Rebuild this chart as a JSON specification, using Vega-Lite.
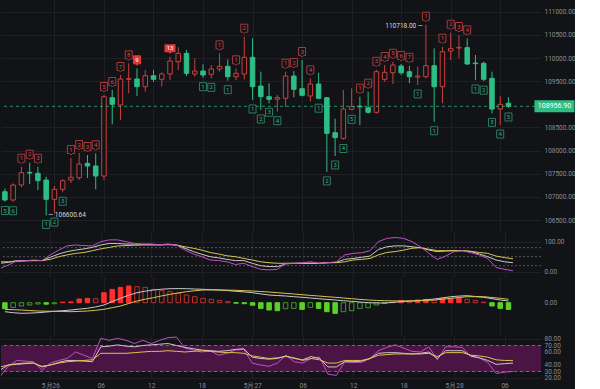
{
"$schema": "https://vega.github.io/schema/vega-lite/v6.json",
"background": "#121317",
"padding": 0,
"spacing": 0,
"bounds": "flush",
"config": {
  "view": {"stroke": null},
  "axis": {"domain": false, "ticks": false, "labelColor": "#8a8d93", "labelFont": "Roboto", "labelFontSize": 6.5, "gridColor": "#1e2025", "gridWidth": 1, "title": null, "labelOverlap": false, "labelSeparation": 0}
},
"data": {"values": [
{"t":"2025-05-25T18:00:00Z","open":107112,"high":107180,"low":106900,"close":106933,"td":5,"side":"d","K":28,"D":33,"J":11,"dif":-90,"dea":-66,"macd":-60,"rsi6":22,"rsi12":32,"rsi24":37},
{"t":"2025-05-25T19:00:00Z","open":106933,"high":107290,"low":106896,"close":107257,"td":6,"side":"d","K":31,"D":33,"J":22,"dif":-100,"dea":-70,"macd":-47,"rsi6":38,"rsi12":40,"rsi24":40},
{"t":"2025-05-25T20:00:00Z","open":107257,"high":107652,"low":107207,"close":107522,"td":1,"side":"u","K":37,"D":34,"J":36,"dif":-106,"dea":-73,"macd":-33,"rsi6":47,"rsi12":41,"rsi24":42},
{"t":"2025-05-25T21:00:00Z","open":107530,"high":107738,"low":107279,"close":107515,"td":2,"side":"u","K":37,"D":36,"J":36,"dif":-104,"dea":-78,"macd":-23,"rsi6":46,"rsi12":42,"rsi24":43},
{"t":"2025-05-25T22:00:00Z","open":107509,"high":107652,"low":107149,"close":107350,"td":3,"side":"u","K":37,"D":37,"J":39,"dif":-100,"dea":-83,"macd":-13,"rsi6":45,"rsi12":43,"rsi24":43},
{"t":"2025-05-25T23:00:00Z","open":107365,"high":107436,"low":106600.64,"close":106948,"td":1,"side":"d","K":37,"D":37,"J":37,"dif":-93,"dea":-85,"macd":-15,"rsi6":32,"rsi12":37,"rsi24":38},
{"t":"2025-05-26T00:00:00Z","open":106948,"high":107235,"low":106650,"close":107164,"td":2,"side":"d","K":48,"D":41,"J":56,"dif":-86,"dea":-86,"macd":-10,"rsi6":43,"rsi12":40,"rsi24":40},
{"t":"2025-05-26T01:00:00Z","open":107164,"high":107380,"low":107100,"close":107350,"td":3,"side":"d","K":59,"D":50,"J":72,"dif":-80,"dea":-88,"macd":5,"rsi6":47,"rsi12":44,"rsi24":43},
{"t":"2025-05-26T02:00:00Z","open":107365,"high":107840,"low":107300,"close":107423,"td":1,"side":"u","K":67,"D":56,"J":86,"dif":-73,"dea":-90,"macd":8,"rsi6":50,"rsi12":47,"rsi24":45},
{"t":"2025-05-26T03:00:00Z","open":107414,"high":107948,"low":107365,"close":107710,"td":2,"side":"u","K":72,"D":61,"J":89,"dif":-64,"dea":-87,"macd":37,"rsi6":60,"rsi12":47,"rsi24":46},
{"t":"2025-05-26T04:00:00Z","open":107725,"high":107905,"low":107408,"close":107667,"td":3,"side":"u","K":76,"D":64,"J":87,"dif":-56,"dea":-83,"macd":43,"rsi6":55,"rsi12":46,"rsi24":47},
{"t":"2025-05-26T05:00:00Z","open":107667,"high":107941,"low":107164,"close":107451,"td":4,"side":"u","K":81,"D":70,"J":86,"dif":-42,"dea":-76,"macd":40,"rsi6":50,"rsi12":45,"rsi24":48},
{"t":"2025-05-26T06:00:00Z","open":107451,"high":109201,"low":107365,"close":109164,"td":5,"side":"u","K":89,"D":76,"J":100,"dif":-23,"dea":-66,"macd":100,"rsi6":81,"rsi12":68,"rsi24":58},
{"t":"2025-05-26T07:00:00Z","open":109142,"high":109309,"low":108568,"close":109000,"td":6,"side":"u","K":94,"D":81,"J":106,"dif":12,"dea":-50,"macd":133,"rsi6":78,"rsi12":69,"rsi24":58},
{"t":"2025-05-26T08:00:00Z","open":108985,"high":109633,"low":108661,"close":109547,"td":7,"side":"u","K":94,"D":86,"J":106,"dif":44,"dea":-33,"macd":153,"rsi6":81,"rsi12":71,"rsi24":58},
{"t":"2025-05-26T09:00:00Z","open":109540,"high":109885,"low":109237,"close":109555,"td":8,"side":"u","K":92,"D":87,"J":100,"dif":75,"dea":-8,"macd":167,"rsi6":78,"rsi12":69,"rsi24":58},
{"t":"2025-05-26T10:00:00Z","open":109547,"high":109777,"low":109179,"close":109380,"td":9,"side":"u","K":92,"D":88,"J":94,"dif":100,"dea":17,"macd":160,"rsi6":73,"rsi12":68,"rsi24":59},
{"t":"2025-05-26T11:00:00Z","open":109380,"high":109741,"low":109272,"close":109618,"K":91,"D":89,"J":92,"dif":115,"dea":35,"macd":153,"rsi6":78,"rsi12":70,"rsi24":60},
{"t":"2025-05-26T12:00:00Z","open":109618,"high":109741,"low":109488,"close":109540,"K":91,"D":89,"J":92,"dif":127,"dea":50,"macd":133,"rsi6":73,"rsi12":71,"rsi24":61},
{"t":"2025-05-26T13:00:00Z","open":109540,"high":109690,"low":109380,"close":109654,"K":90,"D":89,"J":90,"dif":135,"dea":68,"macd":120,"rsi6":78,"rsi12":72,"rsi24":61},
{"t":"2025-05-26T14:00:00Z","open":109654,"high":110028,"low":109525,"close":109935,"td":13,"side":"u","K":91,"D":90,"J":92,"dif":140,"dea":84,"macd":110,"rsi6":82,"rsi12":73,"rsi24":62},
{"t":"2025-05-26T15:00:00Z","open":109920,"high":110231,"low":109741,"close":110100,"K":89,"D":89,"J":89,"dif":141,"dea":98,"macd":93,"rsi6":83,"rsi12":70,"rsi24":61},
{"t":"2025-05-26T16:00:00Z","open":110100,"high":110172,"low":109611,"close":109669,"K":78,"D":83,"J":72,"dif":140,"dea":110,"macd":77,"rsi6":66,"rsi12":67,"rsi24":60},
{"t":"2025-05-26T17:00:00Z","open":109654,"high":109993,"low":109596,"close":109719,"K":67,"D":78,"J":59,"dif":137,"dea":120,"macd":60,"rsi6":63,"rsi12":65,"rsi24":61},
{"t":"2025-05-26T18:00:00Z","open":109719,"high":109864,"low":109575,"close":109633,"td":1,"side":"d","K":58,"D":72,"J":50,"dif":134,"dea":127,"macd":43,"rsi6":60,"rsi12":63,"rsi24":62},
{"t":"2025-05-26T19:00:00Z","open":109648,"high":109849,"low":109561,"close":109762,"td":2,"side":"d","K":50,"D":64,"J":39,"dif":130,"dea":128,"macd":33,"rsi6":62,"rsi12":62,"rsi24":61},
{"t":"2025-05-26T20:00:00Z","open":109762,"high":110100,"low":109704,"close":109820,"td":1,"side":"u","K":46,"D":59,"J":37,"dif":127,"dea":127,"macd":23,"rsi6":55,"rsi12":61,"rsi24":60},
{"t":"2025-05-26T21:00:00Z","open":109820,"high":109972,"low":109510,"close":109596,"td":1,"side":"d","K":41,"D":53,"J":33,"dif":121,"dea":126,"macd":10,"rsi6":58,"rsi12":62,"rsi24":59},
{"t":"2025-05-26T22:00:00Z","open":109596,"high":109777,"low":109525,"close":109669,"td":1,"side":"u","K":37,"D":50,"J":24,"dif":114,"dea":124,"macd":-5,"rsi6":63,"rsi12":64,"rsi24":59},
{"t":"2025-05-26T23:00:00Z","open":109654,"high":110460,"low":109540,"close":110015,"td":2,"side":"u","K":37,"D":44,"J":28,"dif":108,"dea":120,"macd":-10,"rsi6":64,"rsi12":65,"rsi24":58},
{"t":"2025-05-27T00:00:00Z","open":110015,"high":110425,"low":109093,"close":109380,"td":1,"side":"d","K":28,"D":39,"J":17,"dif":100,"dea":117,"macd":-25,"rsi6":43,"rsi12":52,"rsi24":54},
{"t":"2025-05-27T01:00:00Z","open":109395,"high":109704,"low":108877,"close":109164,"td":2,"side":"d","K":20,"D":33,"J":8,"dif":88,"dea":112,"macd":-57,"rsi6":40,"rsi12":50,"rsi24":52},
{"t":"2025-05-27T02:00:00Z","open":109164,"high":109453,"low":109022,"close":109108,"td":3,"side":"d","K":17,"D":30,"J":6,"dif":77,"dea":107,"macd":-73,"rsi6":38,"rsi12":49,"rsi24":50},
{"t":"2025-05-27T03:00:00Z","open":109110,"high":109201,"low":108840,"close":109145,"td":4,"side":"d","K":17,"D":28,"J":8,"dif":72,"dea":100,"macd":-80,"rsi6":43,"rsi12":50,"rsi24":51},
{"t":"2025-05-27T04:00:00Z","open":109130,"high":109704,"low":108948,"close":109611,"td":1,"side":"u","K":26,"D":28,"J":28,"dif":67,"dea":94,"macd":-60,"rsi6":55,"rsi12":54,"rsi24":53},
{"t":"2025-05-27T05:00:00Z","open":109611,"high":109719,"low":109151,"close":109324,"td":2,"side":"u","K":28,"D":28,"J":28,"dif":60,"dea":87,"macd":-57,"rsi6":45,"rsi12":50,"rsi24":51},
{"t":"2025-05-27T06:00:00Z","open":109337,"high":109957,"low":109170,"close":109194,"td":3,"side":"u","K":28,"D":28,"J":30,"dif":54,"dea":80,"macd":-67,"rsi6":43,"rsi12":48,"rsi24":47},
{"t":"2025-05-27T07:00:00Z","open":109179,"high":109561,"low":109064,"close":109438,"td":4,"side":"u","K":28,"D":28,"J":33,"dif":47,"dea":73,"macd":-47,"rsi6":50,"rsi12":53,"rsi24":50},
{"t":"2025-05-27T08:00:00Z","open":109438,"high":109683,"low":109110,"close":109130,"td":1,"side":"d","K":28,"D":28,"J":28,"dif":40,"dea":67,"macd":-57,"rsi6":52,"rsi12":50,"rsi24":48},
{"t":"2025-05-27T09:00:00Z","open":109142,"high":109160,"low":107540,"close":108373,"td":2,"side":"d","K":30,"D":30,"J":30,"dif":33,"dea":60,"macd":-90,"rsi6":26,"rsi12":37,"rsi24":43},
{"t":"2025-05-27T10:00:00Z","open":108387,"high":108690,"low":107883,"close":108279,"td":3,"side":"d","K":31,"D":30,"J":33,"dif":27,"dea":54,"macd":-107,"rsi6":24,"rsi12":37,"rsi24":43},
{"t":"2025-05-27T11:00:00Z","open":108264,"high":109309,"low":108240,"close":108898,"td":4,"side":"d","K":41,"D":33,"J":56,"dif":20,"dea":47,"macd":-90,"rsi6":45,"rsi12":45,"rsi24":47},
{"t":"2025-05-27T12:00:00Z","open":108892,"high":109345,"low":108870,"close":108948,"td":5,"side":"d","K":44,"D":39,"J":61,"dif":14,"dea":40,"macd":-80,"rsi6":44,"rsi12":45,"rsi24":47},
{"t":"2025-05-27T13:00:00Z","open":108960,"high":109164,"low":108553,"close":108945,"td":1,"side":"u","K":48,"D":41,"J":63,"dif":7,"dea":33,"macd":-57,"rsi6":44,"rsi12":46,"rsi24":47},
{"t":"2025-05-27T14:00:00Z","open":108926,"high":109272,"low":108800,"close":108827,"td":2,"side":"u","K":52,"D":44,"J":70,"dif":0,"dea":27,"macd":-50,"rsi6":50,"rsi12":50,"rsi24":50},
{"t":"2025-05-27T15:00:00Z","open":108827,"high":109745,"low":108800,"close":109704,"td":3,"side":"u","K":74,"D":56,"J":100,"dif":-2,"dea":23,"macd":-23,"rsi6":62,"rsi12":58,"rsi24":55},
{"t":"2025-05-27T16:00:00Z","open":109540,"high":109849,"low":109488,"close":109691,"td":4,"side":"u","K":83,"D":64,"J":111,"dif":-3,"dea":20,"macd":-8,"rsi6":67,"rsi12":59,"rsi24":56},
{"t":"2025-05-27T17:00:00Z","open":109682,"high":109920,"low":109438,"close":109849,"td":5,"side":"u","K":86,"D":67,"J":114,"dif":3,"dea":18,"macd":5,"rsi6":71,"rsi12":59,"rsi24":57},
{"t":"2025-05-27T18:00:00Z","open":109827,"high":109870,"low":109633,"close":109682,"td":6,"side":"u","K":86,"D":72,"J":111,"dif":10,"dea":17,"macd":20,"rsi6":66,"rsi12":58,"rsi24":57},
{"t":"2025-05-27T19:00:00Z","open":109704,"high":109830,"low":109453,"close":109596,"td":7,"side":"u","K":83,"D":78,"J":100,"dif":15,"dea":18,"macd":15,"rsi6":61,"rsi12":57,"rsi24":57},
{"t":"2025-05-27T20:00:00Z","open":109590,"high":109812,"low":109417,"close":109610,"td":1,"side":"d","K":80,"D":80,"J":83,"dif":20,"dea":20,"macd":27,"rsi6":60,"rsi12":58,"rsi24":57},
{"t":"2025-05-27T21:00:00Z","open":109596,"high":110718,"low":109560,"close":109834,"td":1,"side":"u","K":72,"D":75,"J":61,"dif":28,"dea":23,"macd":33,"rsi6":68,"rsi12":60,"rsi24":58},
{"t":"2025-05-27T22:00:00Z","open":109834,"high":110208,"low":108624,"close":109380,"td":1,"side":"d","K":67,"D":70,"J":41,"dif":37,"dea":27,"macd":27,"rsi6":48,"rsi12":50,"rsi24":53},
{"t":"2025-05-27T23:00:00Z","open":109380,"high":110244,"low":109022,"close":110136,"td":1,"side":"u","K":69,"D":70,"J":52,"dif":48,"dea":35,"macd":43,"rsi6":68,"rsi12":62,"rsi24":59},
{"t":"2025-05-28T00:00:00Z","open":110151,"high":110546,"low":109957,"close":110208,"td":2,"side":"u","K":70,"D":70,"J":67,"dif":60,"dea":44,"macd":44,"rsi6":68,"rsi12":62,"rsi24":59},
{"t":"2025-05-28T01:00:00Z","open":110215,"high":110497,"low":109993,"close":110230,"td":3,"side":"u","K":70,"D":70,"J":70,"dif":66,"dea":52,"macd":45,"rsi6":67,"rsi12":62,"rsi24":59},
{"t":"2025-05-28T02:00:00Z","open":110224,"high":110425,"low":109850,"close":109870,"td":4,"side":"u","K":67,"D":68,"J":63,"dif":70,"dea":60,"macd":33,"rsi6":53,"rsi12":54,"rsi24":55},
{"t":"2025-05-28T03:00:00Z","open":109892,"high":110065,"low":109525,"close":109878,"td":1,"side":"d","K":59,"D":64,"J":56,"dif":62,"dea":60,"macd":23,"rsi6":51,"rsi12":51,"rsi24":54},
{"t":"2025-05-28T04:00:00Z","open":109885,"high":109920,"low":109500,"close":109540,"td":2,"side":"d","K":50,"D":61,"J":44,"dif":54,"dea":60,"macd":5,"rsi6":44,"rsi12":47,"rsi24":52},
{"t":"2025-05-28T05:00:00Z","open":109561,"high":109704,"low":108805,"close":108898,"td":3,"side":"d","K":39,"D":52,"J":14,"dif":40,"dea":52,"macd":-33,"rsi6":27,"rsi12":41,"rsi24":48},
{"t":"2025-05-28T06:00:00Z","open":108898,"high":109179,"low":108553,"close":109000,"td":4,"side":"d","K":33,"D":47,"J":8,"dif":27,"dea":44,"macd":-57,"rsi6":29,"rsi12":42,"rsi24":47},
{"t":"2025-05-28T07:00:00Z","open":109022,"high":109151,"low":108920,"close":108956.9,"td":5,"side":"d","K":30,"D":43,"J":3,"dif":17,"dea":34,"macd":-67,"rsi6":30,"rsi12":43,"rsi24":47}
]},
"vconcat": [
{
  "width": 540, "height": 232,
  "layer": [
    {"mark": {"type": "rule", "strokeWidth": 1, "clip": true},
     "encoding": {
       "x": {"field": "t", "type": "temporal", "scale": {"type": "utc", "domain": [1748196480000, 1748427600000]}, "axis": {"values": [1748217600000,1748239200000,1748260800000,1748282400000,1748304000000,1748325600000,1748347200000,1748368800000,1748390400000,1748412000000], "labels": false, "grid": true, "title": null}},
       "y": {"field": "low", "type": "quantitative", "scale": {"domain": [106242, 111253], "nice": false, "zero": false}, "axis": {"orient": "right", "values": [106500,107000,107500,108000,108500,109500,110000,110500,111000], "format": ".2f", "grid": true, "labelPadding": 3, "labelOverlap": false, "title": null}},
       "y2": {"field": "high"},
       "color": {"condition": {"test": "datum.close >= datum.open", "value": "#c8413f"}, "value": "#2ebd85"}
     }},
    {"mark": {"type": "bar", "size": 4.5, "strokeWidth": 1, "clip": true},
     "encoding": {
       "x": {"field": "t", "type": "temporal", "scale": {"type": "utc", "domain": [1748196480000, 1748427600000]}, "axis": {"values": [1748217600000,1748239200000,1748260800000,1748282400000,1748304000000,1748325600000,1748347200000,1748368800000,1748390400000,1748412000000], "labels": false, "grid": true, "title": null}},
       "y": {"field": "open", "type": "quantitative", "scale": {"domain": [106242, 111253], "nice": false, "zero": false}, "axis": {"orient": "right", "values": [106500,107000,107500,108000,108500,109500,110000,110500,111000], "format": ".2f", "grid": true, "labelPadding": 3, "labelOverlap": false, "title": null}},
       "y2": {"field": "close"},
       "fill": {"condition": {"test": "datum.close >= datum.open", "value": "#121317"}, "value": "#2ebd85"},
       "stroke": {"condition": {"test": "datum.close >= datum.open", "value": "#c8413f"}, "value": "#2ebd85"}
     }},
    {"transform": [{"filter": "datum.close == 108956.9"}],
     "mark": {"type": "rule", "strokeDash": [3, 3], "color": "#2ebd85", "opacity": 0.75, "strokeWidth": 1},
     "encoding": {
       "y": {"field": "close", "type": "quantitative", "scale": {"domain": [106242, 111253], "nice": false, "zero": false}, "axis": {"orient": "right", "values": [106500,107000,107500,108000,108500,109500,110000,110500,111000], "format": ".2f", "grid": true, "labelPadding": 3, "labelOverlap": false, "title": null}}
     }},
    {"transform": [{"filter": "datum.side == 'u' && datum.td < 10"}],
     "mark": {"type": "point", "shape": "M-3.5,-12.5L3.5,-12.5L3.5,-4.5L1.5,-4.5L0,-3L-1.5,-4.5L-3.5,-4.5Z", "size": 4, "filled": true, "strokeWidth": 1, "opacity": 1, "clip": true},
     "encoding": {
       "x": {"field": "t", "type": "temporal", "scale": {"type": "utc", "domain": [1748196480000, 1748427600000]}, "axis": {"values": [1748217600000,1748239200000,1748260800000,1748282400000,1748304000000,1748325600000,1748347200000,1748368800000,1748390400000,1748412000000], "labels": false, "grid": true, "title": null}},
       "y": {"field": "high", "type": "quantitative", "scale": {"domain": [106242, 111253], "nice": false, "zero": false}, "axis": {"orient": "right", "values": [106500,107000,107500,108000,108500,109500,110000,110500,111000], "format": ".2f", "grid": true, "labelPadding": 3, "labelOverlap": false, "title": null}},
       "fill": {"condition": {"test": "datum.td == 9", "value": "#e3393d"}, "value": "#121317"},
       "stroke": {"condition": {"test": "datum.td == 9", "value": "#e3393d"}, "value": "#a9393a"}
     }},
    {"transform": [{"filter": "datum.side == 'u' && datum.td >= 10"}],
     "mark": {"type": "point", "shape": "M-5.5,-12.5L5.5,-12.5L5.5,-4.5L1.5,-4.5L0,-3L-1.5,-4.5L-5.5,-4.5Z", "size": 4, "filled": true, "strokeWidth": 1, "opacity": 1, "clip": true, "color": "#e3393d"},
     "encoding": {
       "x": {"field": "t", "type": "temporal", "scale": {"type": "utc", "domain": [1748196480000, 1748427600000]}, "axis": {"values": [1748217600000,1748239200000,1748260800000,1748282400000,1748304000000,1748325600000,1748347200000,1748368800000,1748390400000,1748412000000], "labels": false, "grid": true, "title": null}},
       "y": {"field": "high", "type": "quantitative", "scale": {"domain": [106242, 111253], "nice": false, "zero": false}, "axis": {"orient": "right", "values": [106500,107000,107500,108000,108500,109500,110000,110500,111000], "format": ".2f", "grid": true, "labelPadding": 3, "labelOverlap": false, "title": null}}
     }},
    {"transform": [{"filter": "datum.side == 'd'"}],
     "mark": {"type": "point", "shape": "M-3.5,5L3.5,5L3.5,13L-3.5,13Z", "size": 4, "filled": true, "strokeWidth": 1, "opacity": 1, "clip": true, "fill": "#121317", "stroke": "#28805f"},
     "encoding": {
       "x": {"field": "t", "type": "temporal", "scale": {"type": "utc", "domain": [1748196480000, 1748427600000]}, "axis": {"values": [1748217600000,1748239200000,1748260800000,1748282400000,1748304000000,1748325600000,1748347200000,1748368800000,1748390400000,1748412000000], "labels": false, "grid": true, "title": null}},
       "y": {"field": "low", "type": "quantitative", "scale": {"domain": [106242, 111253], "nice": false, "zero": false}, "axis": {"orient": "right", "values": [106500,107000,107500,108000,108500,109500,110000,110500,111000], "format": ".2f", "grid": true, "labelPadding": 3, "labelOverlap": false, "title": null}}
     }},
    {"transform": [{"filter": "datum.side == 'u'"}],
     "mark": {"type": "text", "fontSize": 6, "font": "Roboto", "dy": -8.5, "baseline": "middle", "align": "center", "clip": true},
     "encoding": {
       "x": {"field": "t", "type": "temporal", "scale": {"type": "utc", "domain": [1748196480000, 1748427600000]}, "axis": {"values": [1748217600000,1748239200000,1748260800000,1748282400000,1748304000000,1748325600000,1748347200000,1748368800000,1748390400000,1748412000000], "labels": false, "grid": true, "title": null}},
       "y": {"field": "high", "type": "quantitative", "scale": {"domain": [106242, 111253], "nice": false, "zero": false}, "axis": {"orient": "right", "values": [106500,107000,107500,108000,108500,109500,110000,110500,111000], "format": ".2f", "grid": true, "labelPadding": 3, "labelOverlap": false, "title": null}},
       "text": {"field": "td"},
       "color": {"condition": {"test": "datum.td == 9 || datum.td == 13", "value": "#ffffff"}, "value": "#d24a48"}
     }},
    {"transform": [{"filter": "datum.side == 'd'"}],
     "mark": {"type": "text", "fontSize": 6, "font": "Roboto", "dy": 9, "baseline": "middle", "align": "center", "clip": true, "color": "#35b583"},
     "encoding": {
       "x": {"field": "t", "type": "temporal", "scale": {"type": "utc", "domain": [1748196480000, 1748427600000]}, "axis": {"values": [1748217600000,1748239200000,1748260800000,1748282400000,1748304000000,1748325600000,1748347200000,1748368800000,1748390400000,1748412000000], "labels": false, "grid": true, "title": null}},
       "y": {"field": "low", "type": "quantitative", "scale": {"domain": [106242, 111253], "nice": false, "zero": false}, "axis": {"orient": "right", "values": [106500,107000,107500,108000,108500,109500,110000,110500,111000], "format": ".2f", "grid": true, "labelPadding": 3, "labelOverlap": false, "title": null}},
       "text": {"field": "td"}
     }},
    {"transform": [{"filter": "datum.high == 110718"}, {"calculate": "format(datum.high, '.2f') + ' —'", "as": "lbl"}],
     "mark": {"type": "text", "fontSize": 6.5, "font": "Roboto", "dx": -3, "dy": 1, "baseline": "middle", "align": "right", "color": "#d8d8d8"},
     "encoding": {
       "x": {"field": "t", "type": "temporal", "scale": {"type": "utc", "domain": [1748196480000, 1748427600000]}, "axis": {"values": [1748217600000,1748239200000,1748260800000,1748282400000,1748304000000,1748325600000,1748347200000,1748368800000,1748390400000,1748412000000], "labels": false, "grid": true, "title": null}},
       "y": {"field": "high", "type": "quantitative", "scale": {"domain": [106242, 111253], "nice": false, "zero": false}, "axis": {"orient": "right", "values": [106500,107000,107500,108000,108500,109500,110000,110500,111000], "format": ".2f", "grid": true, "labelPadding": 3, "labelOverlap": false, "title": null}},
       "text": {"field": "lbl"}
     }},
    {"transform": [{"filter": "datum.low == 106600.64"}, {"calculate": "'— ' + format(datum.low, '.2f')", "as": "lbl"}],
     "mark": {"type": "text", "fontSize": 6.5, "font": "Roboto", "dx": 2, "dy": 0, "baseline": "middle", "align": "left", "color": "#d8d8d8"},
     "encoding": {
       "x": {"field": "t", "type": "temporal", "scale": {"type": "utc", "domain": [1748196480000, 1748427600000]}, "axis": {"values": [1748217600000,1748239200000,1748260800000,1748282400000,1748304000000,1748325600000,1748347200000,1748368800000,1748390400000,1748412000000], "labels": false, "grid": true, "title": null}},
       "y": {"field": "low", "type": "quantitative", "scale": {"domain": [106242, 111253], "nice": false, "zero": false}, "axis": {"orient": "right", "values": [106500,107000,107500,108000,108500,109500,110000,110500,111000], "format": ".2f", "grid": true, "labelPadding": 3, "labelOverlap": false, "title": null}},
       "text": {"field": "lbl"}
     }},
    {"transform": [{"filter": "datum.close == 108956.9"}],
     "mark": {"type": "point", "shape": "M26,-6L66,-6L66,6L26,6Z", "size": 4, "filled": true, "opacity": 1, "color": "#2ebd85", "clip": false},
     "encoding": {
       "x": {"field": "t", "type": "temporal", "scale": {"type": "utc", "domain": [1748196480000, 1748427600000]}, "axis": {"values": [1748217600000,1748239200000,1748260800000,1748282400000,1748304000000,1748325600000,1748347200000,1748368800000,1748390400000,1748412000000], "labels": false, "grid": true, "title": null}},
       "y": {"field": "close", "type": "quantitative", "scale": {"domain": [106242, 111253], "nice": false, "zero": false}, "axis": {"orient": "right", "values": [106500,107000,107500,108000,108500,109500,110000,110500,111000], "format": ".2f", "grid": true, "labelPadding": 3, "labelOverlap": false, "title": null}}
     }},
    {"transform": [{"filter": "datum.close == 108956.9"}],
     "mark": {"type": "text", "fontSize": 7, "font": "Roboto", "dx": 46, "baseline": "middle", "align": "center", "color": "#ffffff", "clip": false},
     "encoding": {
       "x": {"field": "t", "type": "temporal", "scale": {"type": "utc", "domain": [1748196480000, 1748427600000]}, "axis": {"values": [1748217600000,1748239200000,1748260800000,1748282400000,1748304000000,1748325600000,1748347200000,1748368800000,1748390400000,1748412000000], "labels": false, "grid": true, "title": null}},
       "y": {"field": "close", "type": "quantitative", "scale": {"domain": [106242, 111253], "nice": false, "zero": false}, "axis": {"orient": "right", "values": [106500,107000,107500,108000,108500,109500,110000,110500,111000], "format": ".2f", "grid": true, "labelPadding": 3, "labelOverlap": false, "title": null}},
       "text": {"field": "close", "format": ".2f"}
     }}
  ]
},
{
  "width": 540, "height": 45,
  "layer": [
    {"data": {"values": [{"lv": 20}, {"lv": 50}, {"lv": 80}]},
     "mark": {"type": "rule", "strokeDash": [2, 2], "color": "#55575c", "strokeWidth": 1},
     "encoding": {
       "y": {"field": "lv", "type": "quantitative", "scale": {"domain": [-17.7, 132.3], "nice": false, "zero": false}, "axis": {"orient": "right", "values": [0, 100], "format": ".2f", "grid": true, "labelPadding": 3, "labelOverlap": false, "title": null}}
     }},
    {"transform": [{"fold": ["K", "D", "J"], "as": ["line", "val"]}],
     "mark": {"type": "line", "strokeWidth": 1, "clip": true},
     "encoding": {
       "x": {"field": "t", "type": "temporal", "scale": {"type": "utc", "domain": [1748196480000, 1748427600000]}, "axis": {"values": [1748217600000,1748239200000,1748260800000,1748282400000,1748304000000,1748325600000,1748347200000,1748368800000,1748390400000,1748412000000], "labels": false, "grid": true, "title": null}},
       "y": {"field": "val", "type": "quantitative", "scale": {"domain": [-17.7, 132.3], "nice": false, "zero": false}, "axis": {"orient": "right", "values": [0, 100], "format": ".2f", "grid": true, "labelPadding": 3, "labelOverlap": false, "title": null}},
       "color": {"field": "line", "type": "nominal", "scale": {"domain": ["K", "D", "J"], "range": ["#c9c9c9", "#d9c64b", "#c44fc4"]}, "legend": null}
     }}
  ]
},
{
  "width": 540, "height": 58,
  "layer": [
    {"transform": [
       {"window": [{"op": "lag", "field": "macd", "as": "prev"}], "sort": [{"field": "t"}]},
       {"calculate": "!isValid(datum.prev) || (datum.macd >= 0 ? datum.macd >= datum.prev : datum.macd <= datum.prev)", "as": "solid"}
     ],
     "mark": {"type": "bar", "size": 4.5, "strokeWidth": 1, "clip": true},
     "encoding": {
       "x": {"field": "t", "type": "temporal", "scale": {"type": "utc", "domain": [1748196480000, 1748427600000]}, "axis": {"values": [1748217600000,1748239200000,1748260800000,1748282400000,1748304000000,1748325600000,1748347200000,1748368800000,1748390400000,1748412000000], "labels": false, "grid": true, "title": null}},
       "y": {"field": "macd", "type": "quantitative", "scale": {"domain": [-323, 257], "nice": false, "zero": false}, "axis": {"orient": "right", "values": [0], "format": ".2f", "grid": false, "labelPadding": 3, "labelOverlap": false, "title": null}},
       "y2": {"datum": 0},
       "fill": {"condition": [{"test": "datum.solid && datum.macd >= 0", "value": "#ff2e2e"}, {"test": "datum.solid && datum.macd < 0", "value": "#5bd12a"}], "value": "#121317"},
       "stroke": {"condition": [{"test": "datum.solid && datum.macd >= 0", "value": "#ff2e2e"}, {"test": "datum.macd >= 0", "value": "#c0302c"}, {"test": "datum.solid", "value": "#5bd12a"}], "value": "#3f9a2a"}
     }},
    {"transform": [{"fold": ["dif", "dea"], "as": ["line", "val"]}],
     "mark": {"type": "line", "strokeWidth": 1, "clip": true},
     "encoding": {
       "x": {"field": "t", "type": "temporal", "scale": {"type": "utc", "domain": [1748196480000, 1748427600000]}, "axis": {"values": [1748217600000,1748239200000,1748260800000,1748282400000,1748304000000,1748325600000,1748347200000,1748368800000,1748390400000,1748412000000], "labels": false, "grid": true, "title": null}},
       "y": {"field": "val", "type": "quantitative", "scale": {"domain": [-323, 257], "nice": false, "zero": false}, "axis": {"orient": "right", "values": [0], "format": ".2f", "grid": false, "labelPadding": 3, "labelOverlap": false, "title": null}},
       "color": {"field": "line", "type": "nominal", "scale": {"domain": ["dif", "dea"], "range": ["#c9c9c9", "#d9c64b"]}, "legend": null}
     }}
  ]
},
{
  "width": 540, "height": 44,
  "layer": [
    {"mark": {"type": "rect", "color": "#4a1444"},
     "encoding": {
       "y": {"datum": 70, "type": "quantitative", "scale": {"domain": [18.46, 86.15], "nice": false, "zero": false}, "axis": {"orient": "right", "values": [20, 30, 40, 60, 70, 80], "format": ".2f", "grid": true, "labelPadding": 3, "labelOverlap": false, "title": null}},
       "y2": {"datum": 30}
     }},
    {"data": {"values": [{"lv": 30}, {"lv": 70}]},
     "mark": {"type": "rule", "strokeDash": [3, 3], "color": "#7a6a7a", "strokeWidth": 1},
     "encoding": {
       "y": {"field": "lv", "type": "quantitative", "scale": {"domain": [18.46, 86.15], "nice": false, "zero": false}, "axis": {"orient": "right", "values": [20, 30, 40, 60, 70, 80], "format": ".2f", "grid": true, "labelPadding": 3, "labelOverlap": false, "title": null}}
     }},
    {"transform": [{"fold": ["rsi6", "rsi12", "rsi24"], "as": ["line", "val"]}],
     "mark": {"type": "line", "strokeWidth": 1, "clip": true},
     "encoding": {
       "x": {"field": "t", "type": "temporal", "scale": {"type": "utc", "domain": [1748196480000, 1748427600000]}, "axis": {"values": [1748217600000,1748239200000,1748260800000,1748282400000,1748304000000,1748325600000,1748347200000,1748368800000,1748390400000,1748412000000], "labels": true, "grid": true, "labelPadding": 3, "labelOverlap": false, "labelFlush": false, "labelExpr": "utchours(datum.value) == 0 ? utcFormat(datum.value, '%-m月%d') : utcFormat(datum.value, '%H')", "title": null}},
       "y": {"field": "val", "type": "quantitative", "scale": {"domain": [18.46, 86.15], "nice": false, "zero": false}, "axis": {"orient": "right", "values": [20, 30, 40, 60, 70, 80], "format": ".2f", "grid": true, "labelPadding": 3, "labelOverlap": false, "title": null}},
       "color": {"field": "line", "type": "nominal", "scale": {"domain": ["rsi6", "rsi12", "rsi24"], "range": ["#d2d2d2", "#d9c64b", "#c44fc4"]}, "legend": null}
     }}
  ]
}
]
}
